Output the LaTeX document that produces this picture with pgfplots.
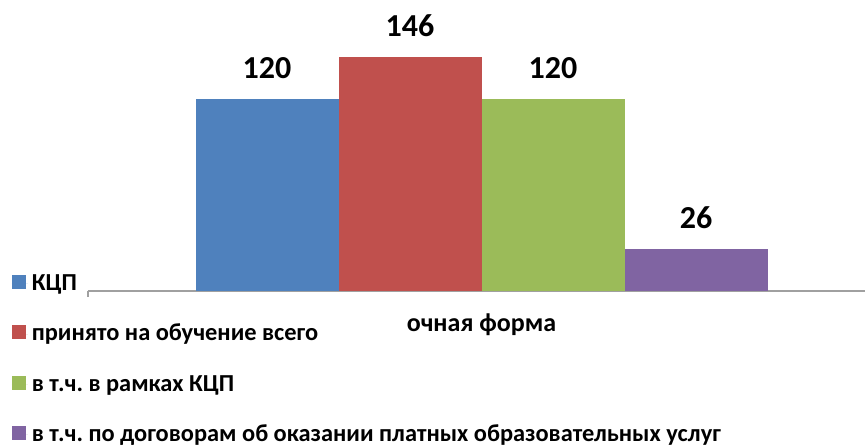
\documentclass[border=0pt]{standalone}
\usepackage{pgfplots}
\pgfplotsset{compat=1.18}
\usepackage{fontspec}
\setmainfont{Carlito}
\frenchspacing
\definecolor{cblue}{HTML}{4F81BD}
\definecolor{cred}{HTML}{C0504D}
\definecolor{cgreen}{HTML}{9BBB59}
\definecolor{cpurple}{HTML}{8064A2}
\definecolor{axgray}{HTML}{A0A0A0}
\begin{document}
\begin{tikzpicture}
\useasboundingbox (0pt,0pt) rectangle (432.5pt,223pt);
\begin{axis}[
  at={(44pt,77.5pt)}, anchor=south west,
  x=0.5pt, y=0.8pt,
  xmin=88, xmax=865, ymin=0, ymax=180,
  ybar=0pt, bar width=71.5pt,
  axis x line=bottom, axis y line=none,
  x axis line style={draw=axgray, line width=1pt, -},
  xtick={88}, xticklabels={},
  tick align=outside, major tick length=3pt,
  tick style={draw=axgray, line width=0.8pt},
  extra x ticks={481.5},
  extra x tick labels={очная форма},
  extra x tick style={major tick length=0pt, tick label style={font=\bfseries\fontsize{13}{15}\selectfont, yshift=-8pt}},
  ytick=\empty,
  /pgf/number format/assume math mode=true,
  nodes near coords,
  every node near coord/.append style={font=\bfseries\fontsize{16}{18}\selectfont, text=black, anchor=south, inner sep=0pt, yshift=10pt},
  legend style={at={(-0.0985,0.0735)}, anchor=north west, draw=none, fill=none,
    font=\bfseries\fontsize{12.2}{12}\selectfont, row sep=11.7pt,
    cells={anchor=west, text height=8pt, text depth=2pt, inner sep=0pt}, inner sep=0pt},
  legend image code/.code={\fill[#1] (0pt,-2.5pt) rectangle (7pt,4.5pt); \path (0pt,0pt) -- (8pt,0pt);},
  clip=false,
]
\addplot[fill=cblue, draw=none] coordinates {(481.5,120)};
\addplot[fill=cred, draw=none] coordinates {(481.5,146)};
\addplot[fill=cgreen, draw=none] coordinates {(481.5,120)};
\addplot[fill=cpurple, draw=none] coordinates {(481.5,26)};
\legend{КЦП, принято на обучение всего, в т.ч. в рамках КЦП, в т.ч. по договорам об оказании платных образовательных услуг}
\end{axis}
\end{tikzpicture}
\end{document}
